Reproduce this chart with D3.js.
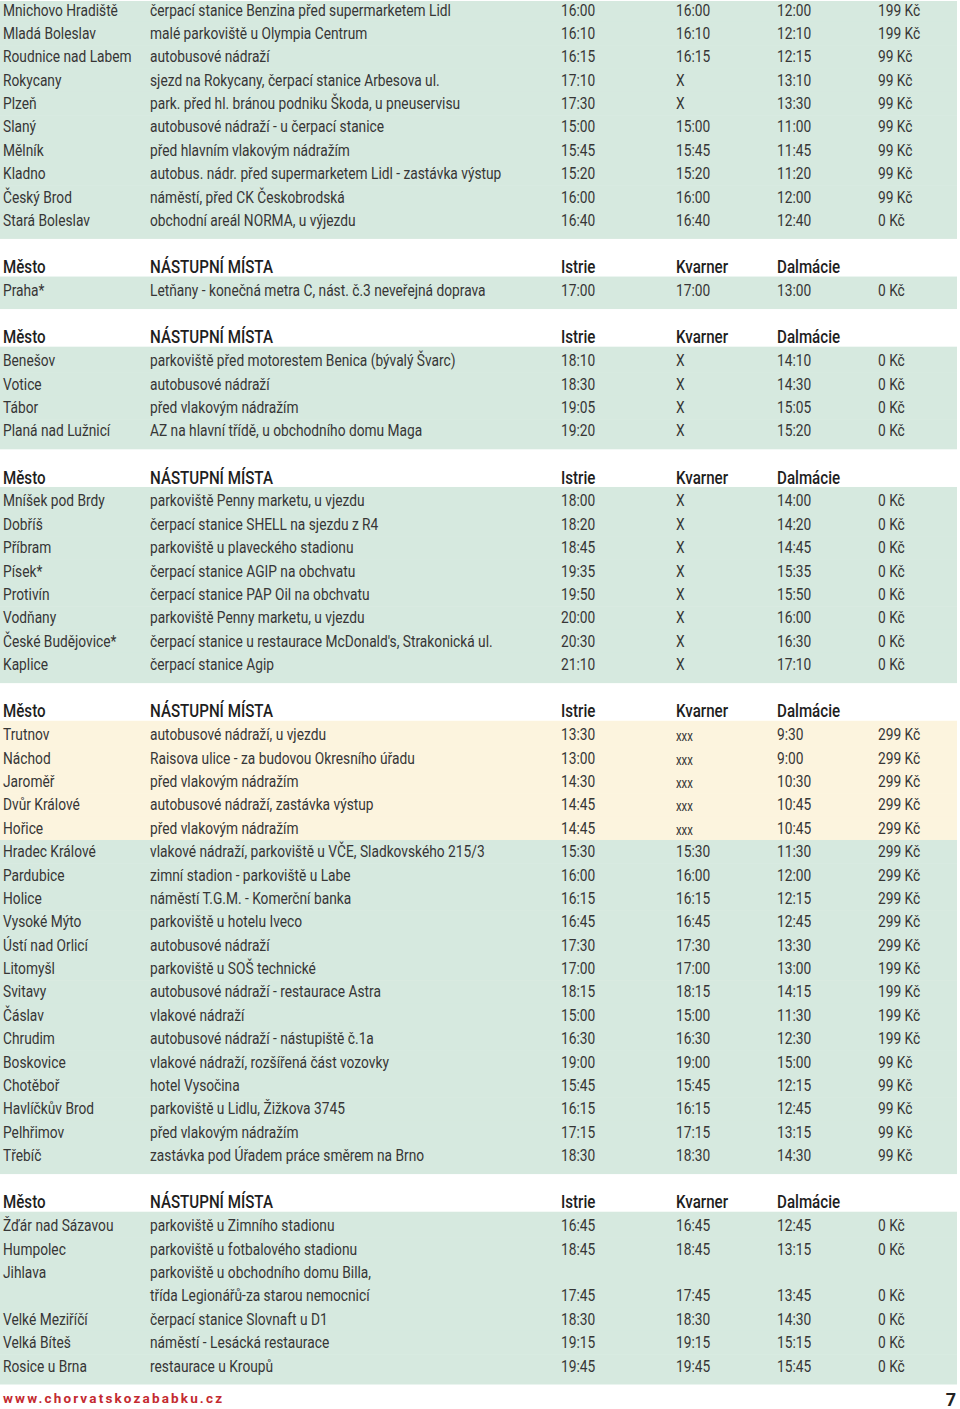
<!DOCTYPE html>
<html>
<head>
<meta charset="utf-8">
<script src="https://cdn.jsdelivr.net/npm/d3@7"></script>
<style>
  body { margin: 0; background: #fff; }
  text { font-family: Roboto, "Liberation Sans", sans-serif; }
</style>
</head>
<body>
<svg id="chart"></svg>
<script>
// column headers
const headers = ["Město", "NÁSTUPNÍ MÍSTA", "Istrie", "Kvarner", "Dalmácie"];

// each row: city, boarding place, Istrie, Kvarner, Dalmácie, price
const section1 = [
  ["Mnichovo Hradiště", "čerpací stanice Benzina před supermarketem Lidl", "16:00", "16:00", "12:00", "199 Kč"],
  ["Mladá Boleslav", "malé parkoviště u Olympia Centrum", "16:10", "16:10", "12:10", "199 Kč"],
  ["Roudnice nad Labem", "autobusové nádraží", "16:15", "16:15", "12:15", "99 Kč"],
  ["Rokycany", "sjezd na Rokycany, čerpací stanice Arbesova ul.", "17:10", "X", "13:10", "99 Kč"],
  ["Plzeň", "park. před hl. bránou podniku Škoda, u pneuservisu", "17:30", "X", "13:30", "99 Kč"],
  ["Slaný", "autobusové nádraží - u čerpací stanice", "15:00", "15:00", "11:00", "99 Kč"],
  ["Mělník", "před hlavním vlakovým nádražím", "15:45", "15:45", "11:45", "99 Kč"],
  ["Kladno", "autobus. nádr. před supermarketem Lidl - zastávka výstup", "15:20", "15:20", "11:20", "99 Kč"],
  ["Český Brod", "náměstí, před CK Českobrodská", "16:00", "16:00", "12:00", "99 Kč"],
  ["Stará Boleslav", "obchodní areál NORMA, u výjezdu", "16:40", "16:40", "12:40", "0 Kč"]
];
const section2 = [
  ["Praha*", "Letňany - konečná metra C, nást. č.3 neveřejná doprava", "17:00", "17:00", "13:00", "0 Kč"]
];
const section3 = [
  ["Benešov", "parkoviště před motorestem Benica (bývalý Švarc)", "18:10", "X", "14:10", "0 Kč"],
  ["Votice", "autobusové nádraží", "18:30", "X", "14:30", "0 Kč"],
  ["Tábor", "před vlakovým nádražím", "19:05", "X", "15:05", "0 Kč"],
  ["Planá nad Lužnicí", "AZ na hlavní třídě, u obchodního domu Maga", "19:20", "X", "15:20", "0 Kč"]
];
const section4 = [
  ["Mníšek pod Brdy", "parkoviště Penny marketu, u vjezdu", "18:00", "X", "14:00", "0 Kč"],
  ["Dobříš", "čerpací stanice SHELL na sjezdu z R4", "18:20", "X", "14:20", "0 Kč"],
  ["Příbram", "parkoviště u plaveckého stadionu", "18:45", "X", "14:45", "0 Kč"],
  ["Písek*", "čerpací stanice AGIP na obchvatu", "19:35", "X", "15:35", "0 Kč"],
  ["Protivín", "čerpací stanice PAP Oil na obchvatu", "19:50", "X", "15:50", "0 Kč"],
  ["Vodňany", "parkoviště Penny marketu, u vjezdu", "20:00", "X", "16:00", "0 Kč"],
  ["České Budějovice*", "čerpací stanice u restaurace McDonald's, Strakonická ul.", "20:30", "X", "16:30", "0 Kč"],
  ["Kaplice", "čerpací stanice Agip", "21:10", "X", "17:10", "0 Kč"]
];
const section5 = [
  ["Trutnov", "autobusové nádraží, u vjezdu", "13:30", "xxx", "9:30", "299 Kč"],
  ["Náchod", "Raisova ulice - za budovou Okresního úřadu", "13:00", "xxx", "9:00", "299 Kč"],
  ["Jaroměř", "před vlakovým nádražím", "14:30", "xxx", "10:30", "299 Kč"],
  ["Dvůr Králové", "autobusové nádraží, zastávka výstup", "14:45", "xxx", "10:45", "299 Kč"],
  ["Hořice", "před vlakovým nádražím", "14:45", "xxx", "10:45", "299 Kč"],
  ["Hradec Králové", "vlakové nádraží, parkoviště u VČE, Sladkovského 215/3", "15:30", "15:30", "11:30", "299 Kč"],
  ["Pardubice", "zimní stadion - parkoviště u Labe", "16:00", "16:00", "12:00", "299 Kč"],
  ["Holice", "náměstí T.G.M. - Komerční banka", "16:15", "16:15", "12:15", "299 Kč"],
  ["Vysoké Mýto", "parkoviště u hotelu Iveco", "16:45", "16:45", "12:45", "299 Kč"],
  ["Ústí nad Orlicí", "autobusové nádraží", "17:30", "17:30", "13:30", "299 Kč"],
  ["Litomyšl", "parkoviště u SOŠ technické", "17:00", "17:00", "13:00", "199 Kč"],
  ["Svitavy", "autobusové nádraží - restaurace Astra", "18:15", "18:15", "14:15", "199 Kč"],
  ["Čáslav", "vlakové nádraží", "15:00", "15:00", "11:30", "199 Kč"],
  ["Chrudim", "autobusové nádraží - nástupiště č.1a", "16:30", "16:30", "12:30", "199 Kč"],
  ["Boskovice", "vlakové nádraží, rozšířená část vozovky", "19:00", "19:00", "15:00", "99 Kč"],
  ["Chotěboř", "hotel Vysočina", "15:45", "15:45", "12:15", "99 Kč"],
  ["Havlíčkův Brod", "parkoviště u Lidlu, Žižkova 3745", "16:15", "16:15", "12:45", "99 Kč"],
  ["Pelhřimov", "před vlakovým nádražím", "17:15", "17:15", "13:15", "99 Kč"],
  ["Třebíč", "zastávka pod Úřadem práce směrem na Brno", "18:30", "18:30", "14:30", "99 Kč"]
];
const section6 = [
  ["Žďár nad Sázavou", "parkoviště u Zimního stadionu", "16:45", "16:45", "12:45", "0 Kč"],
  ["Humpolec", "parkoviště u fotbalového stadionu", "18:45", "18:45", "13:15", "0 Kč"],
  ["Jihlava", "parkoviště u obchodního domu Billa,|třída Legionářů-za starou nemocnicí", "17:45", "17:45", "13:45", "0 Kč"],
  ["Velké Meziříčí", "čerpací stanice Slovnaft u D1", "18:30", "18:30", "14:30", "0 Kč"],
  ["Velká Bíteš", "náměstí - Lesácká restaurace", "19:15", "19:15", "15:15", "0 Kč"],
  ["Rosice u Brna", "restaurace u Kroupů", "19:45", "19:45", "15:45", "0 Kč"]
];
// first section has no header row; rows of section 5 with a beige band
const sections = [section1, section2, section3, section4, section5, section6];
const beigeRows = ["Trutnov", "Náchod", "Jaroměř", "Dvůr Králové", "Hořice"];

const footerUrl = "www.chorvatskozababku.cz";
const pageNumber = "7";

const width = 960, height = 1409;
const green = "#d6e9df", beige = "#fcf4de", ink = "#363636";

const svg = d3.select("#chart").attr("width", width).attr("height", height);

// horizontal squeeze so a normal font looks like the condensed original
function squeeze(sample, target, size, weight) {
  const t = svg.append("text").attr("font-size", size).attr("font-weight", weight).text(sample);
  const w = t.node().getComputedTextLength();
  t.remove();
  return target / w;
}
const sxBody = squeeze("Mnichovo Hradiště", 115, 17, "normal");
const sxHead = squeeze("NÁSTUPNÍ MÍSTA", 123, 17.5, "500");

const colX = d3.scaleOrdinal().domain(d3.range(6)).range([3, 150, 561, 676, 777, 878]);

// flat list of lines (header lines, row lines, blanks)
let lines = [];
let line = 0;
sections.forEach((rows, si) => {
  if (si > 0) {
    line += 1; // blank line
    lines.push({type: "header", line: line++, section: si});
  }
  rows.forEach(r => {
    const parts = r[1].split("|");
    lines.push({type: "row", line: line, lineCount: parts.length, row: r, section: si});
    line += parts.length;
  });
});

const y = d3.scaleLinear().domain([0, line - 1]).range([10, 1366]);

// bands
const bands = svg.append("g");
sections.forEach((rows, si) => {
  const rowLines = lines.filter(d => d.type === "row" && d.section === si);
  rowLines.forEach((d, i) => {
    const first = i === 0, last = i === rowLines.length - 1;
    const top = first ? (si === 0 ? 1 : y(d.line) - 14) : (y(d.line) + y(d.line - 1)) / 2;
    const endLine = d.line + d.lineCount - 1;
    const bottom = last ? y(endLine) + 18 : (y(endLine) + y(endLine + 1)) / 2;
    bands.append("rect")
      .attr("x", 0).attr("width", 957)
      .attr("y", top).attr("height", bottom - top + 0.5)
      .attr("fill", beigeRows.includes(d.row[0]) ? beige : green);
  });
});

function put(g, x, yy, str, size, sx, weight, fill) {
  g.append("text")
    .attr("transform", `translate(${x},${yy}) scale(${sx},1)`)
    .attr("font-size", size)
    .attr("font-weight", weight)
    .attr("fill", fill)
    .text(str);
}

// headers
const textG = svg.append("g");
lines.filter(d => d.type === "header").forEach(d => {
  headers.forEach((h, i) => put(textG, colX(i), y(d.line) + 6, h, 17.5, sxHead, "500", "#1e1e1e"));
});

// rows
lines.filter(d => d.type === "row").forEach(d => {
  const parts = d.row[1].split("|");
  const lastBase = y(d.line + parts.length - 1) + 5.5;
  put(textG, colX(0), y(d.line) + 5.5, d.row[0], 17, sxBody, "normal", ink);
  parts.forEach((p, k) => put(textG, colX(1), y(d.line + k) + 5.5, p, 17, sxBody, "normal", ink));
  for (let c = 2; c < 6; c++) {
    const v = d.row[c];
    put(textG, colX(c), lastBase + (v === "xxx" ? 1 : 0), v, v === "xxx" ? 14 : 17, sxBody, "normal", ink);
  }
});

// footer
svg.append("text")
  .attr("x", 3).attr("y", 1403)
  .attr("font-family", "'Liberation Sans', Arial, sans-serif")
  .attr("font-size", 13.5).attr("font-weight", "bold")
  .attr("textLength", 219)
  .attr("lengthAdjust", "spacing")
  .attr("fill", "#c42a30")
  .text(footerUrl);

svg.append("text")
  .attr("x", 956).attr("y", 1406)
  .attr("text-anchor", "end")
  .attr("font-family", "'Liberation Sans', Arial, sans-serif")
  .attr("font-size", 18).attr("font-weight", "bold")
  .attr("fill", "#222")
  .text(pageNumber);
</script>
</body>
</html>
